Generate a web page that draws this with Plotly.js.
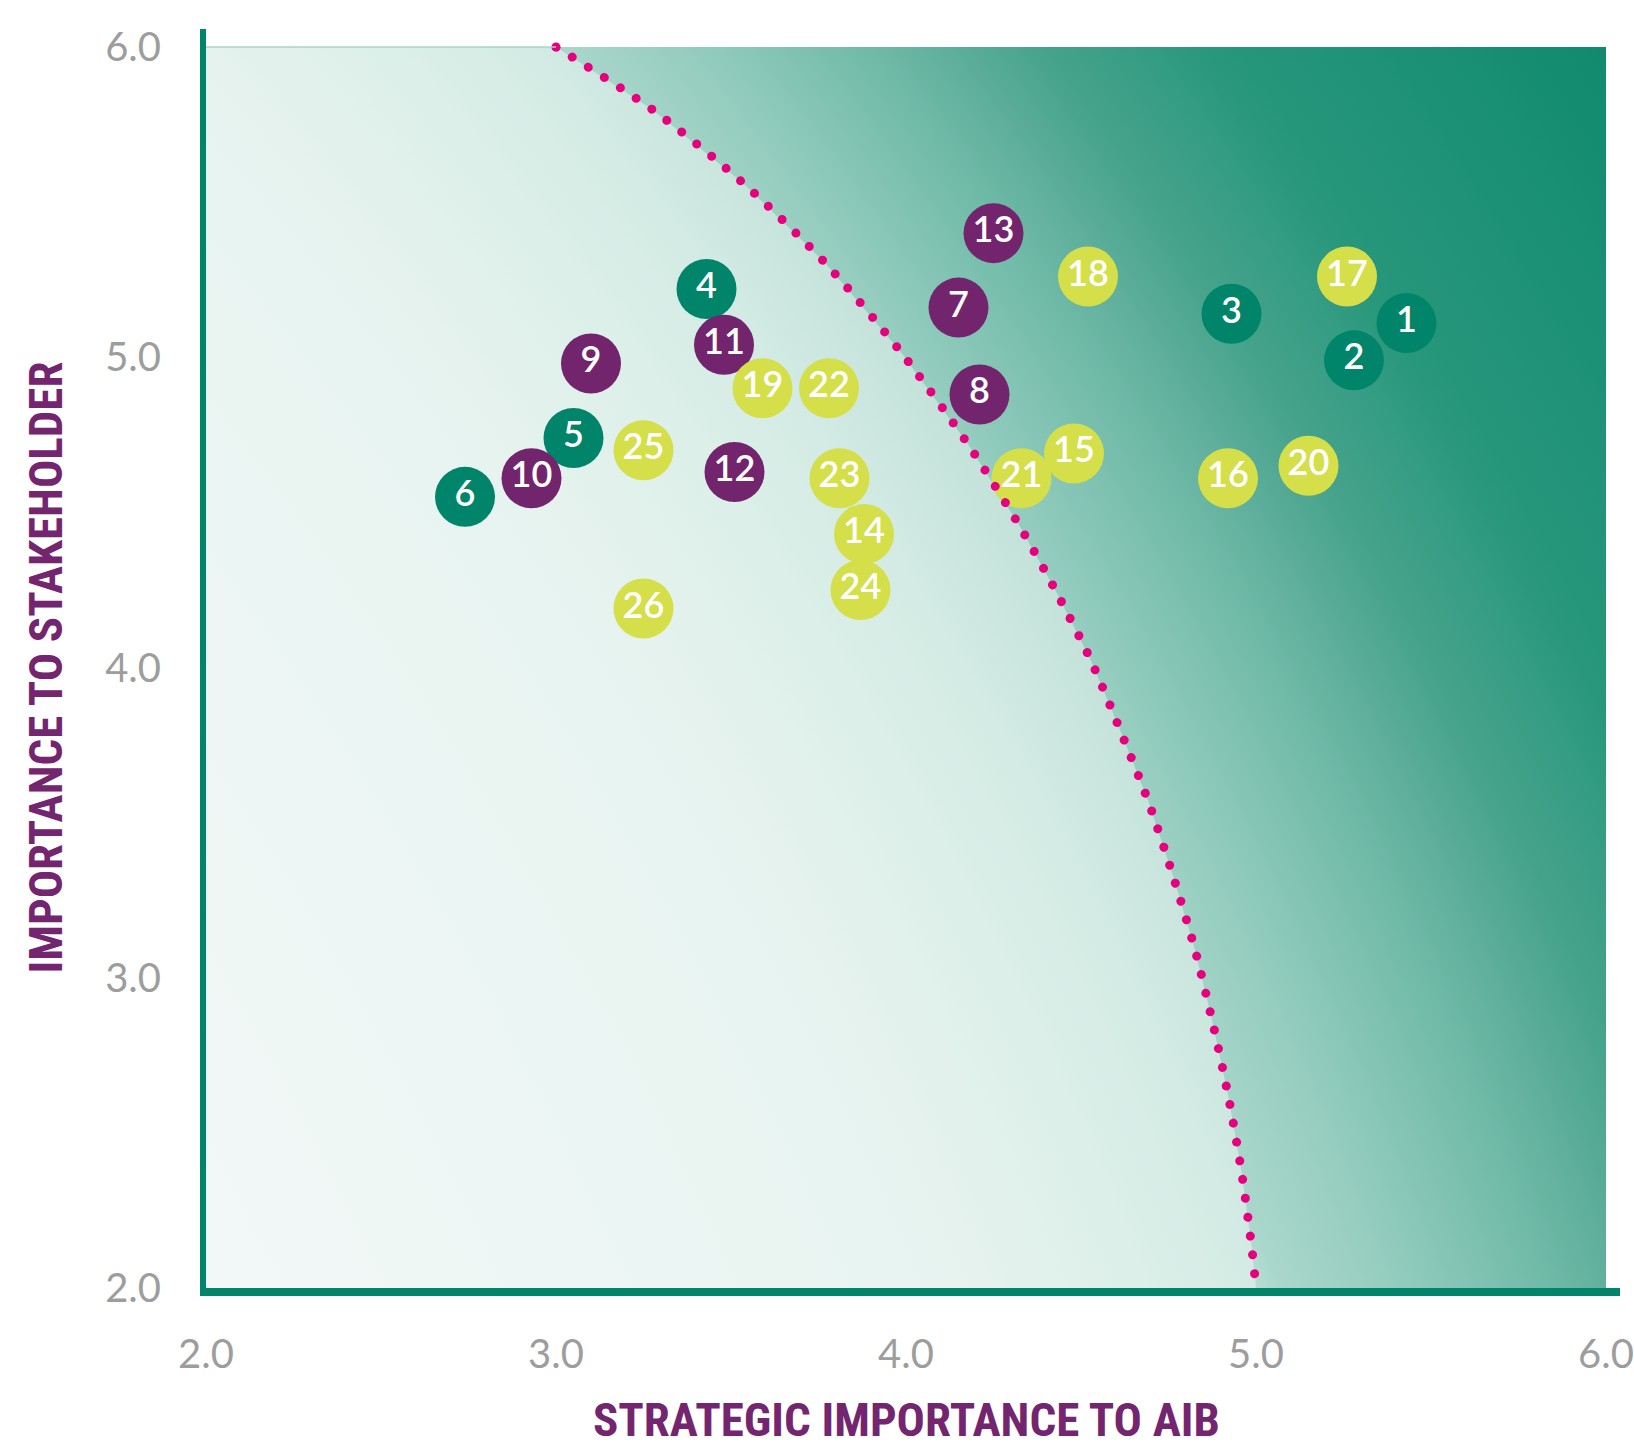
<!DOCTYPE html>
<html><head><meta charset="utf-8">
<script src="https://cdn.plot.ly/plotly-3.0.1.min.js"></script>
<style>html,body{margin:0;padding:0;background:#fff;} #chart{width:1634px;height:1450px;}</style>
</head><body><div id="chart"></div>
<script>
// ---- data ----
const greenIds = ['1','2','3','4','5','6'];
const greenX = [5.43, 5.28, 4.93, 3.43, 3.05, 2.74];
const greenY = [5.11, 4.99, 5.14, 5.22, 4.74, 4.55];

const purpleIds = ['7','8','9','10','11','12','13'];
const purpleX = [4.15, 4.21, 3.10, 2.93, 3.48, 3.51, 4.25];
const purpleY = [5.16, 4.88, 4.98, 4.61, 5.04, 4.63, 5.40];

const yellowIds = ['14','15','16','17','18','19','20','21','22','23','24','25','26'];
const yellowX = [3.88, 4.48, 4.92, 5.26, 4.52, 3.59, 5.15, 4.33, 3.78, 3.81, 3.87, 3.25, 3.25];
const yellowY = [4.43, 4.69, 4.61, 5.26, 5.26, 4.90, 4.65, 4.61, 4.90, 4.61, 4.25, 4.70, 4.19];

// materiality threshold curve (dotted)
const curveX = [3.000, 3.277, 3.534, 3.769, 3.983, 4.177, 4.323, 4.431, 4.529, 4.614, 4.694, 4.763, 4.826, 4.877, 4.923, 4.960, 4.989, 5.000];
const curveY = [6.000, 5.797, 5.562, 5.304, 5.020, 4.720, 4.459, 4.240, 4.021, 3.792, 3.563, 3.328, 3.089, 2.851, 2.606, 2.364, 2.119, 2.000];

const xTitle = 'STRATEGIC IMPORTANCE TO AIB';
const yTitle = 'IMPORTANCE TO STAKEHOLDER';
const axisRange = [2, 6];

// ---- styling ----
const GREEN = '#00856a', PURPLE = '#72256d', YELLOW = '#d4df4a', MAGENTA = '#e6007e';
const numFont = {family: 'Lato, "Open Sans", sans-serif', size: 36, color: '#ffffff', weight: 600};

// background gradient geometry (a far-off radial centre gives a soft diagonal gradient);
// the fill polygons reach outside the plot window and are clipped by the plot area.
const G = {cx: -8.92, cy: -2.71, r: 18};
const bgLeft = {
  x: [G.cx - G.r, G.cx + G.r, G.cx + G.r, G.cx - G.r],
  y: [G.cy - G.r, G.cy - G.r, G.cy + G.r, G.cy + G.r],
  mode: 'lines', fill: 'toself', line: {width: 0, color: 'rgba(0,0,0,0)'},
  fillgradient: {type: 'radial', colorscale: [
    [0, '#f6fbfa'], [0.661, '#f2f8f7'], [0.764, '#e8f4f1'], [0.776, '#e5f2ee'],
    [0.80, '#dcefe9'], [0.8167, '#d3ebe4'], [0.8367, '#c3e2da'], [0.86, '#b8ddd3'], [1, '#b0d8cd']]},
  hoverinfo: 'skip', showlegend: false
};
const bgRight = {
  x: curveX.concat([curveX[curveX.length - 1], G.cx + G.r, G.cx + G.r, G.cx - G.r]),
  y: curveY.concat([G.cy - G.r, G.cy - G.r, G.cy + G.r, G.cy + G.r]),
  mode: 'lines', fill: 'toself', line: {width: 0, color: 'rgba(0,0,0,0)'},
  fillgradient: {type: 'radial', colorscale: [
    [0, '#c0e1d8'], [0.8167, '#b8ddd3'], [0.82, '#aad7cb'], [0.8367, '#95cdbf'],
    [0.8594, '#72bba9'], [0.8689, '#62b19e'], [0.8844, '#45a28a'], [0.8983, '#339c83'],
    [0.9056, '#28977c'], [0.96, '#108a6e'], [1, '#0b876b']]},
  hoverinfo: 'skip', showlegend: false
};

function bubbles(xs, ys, ids, color) {
  return {x: xs, y: ys, text: ids, mode: 'markers+text', type: 'scatter',
    marker: {size: 60, color: color, line: {width: 0}},
    textposition: 'middle center', textfont: numFont, cliponaxis: false,
    hoverinfo: 'text', showlegend: false};
}

const curve = {x: curveX, y: curveY, mode: 'lines', type: 'scatter',
  line: {color: MAGENTA, width: 9, dash: '9px,10px', shape: 'spline', smoothing: 0.8},
  hoverinfo: 'skip', showlegend: false};
const curveStart = {x: [curveX[0]], y: [curveY[0]], mode: 'markers', type: 'scatter',
  marker: {size: 9, color: MAGENTA}, cliponaxis: false, hoverinfo: 'skip', showlegend: false};

const data = [bgLeft, bgRight,
  bubbles(greenX, greenY, greenIds, GREEN),
  bubbles(purpleX, purpleY, purpleIds, PURPLE),
  bubbles(yellowX, yellowY, yellowIds, YELLOW),
  curve, curveStart];

const tickFont = {family: 'Lato, "Open Sans", sans-serif', size: 40, color: '#9d9d9d'};
const titleFont = {family: '"Liberation Sans Narrow", "Roboto Condensed", Roboto, sans-serif', size: 47, color: '#73256f', weight: 'bold'};

const layout = {
  width: 1634, height: 1450,
  margin: {l: 206, r: 28, t: 47, b: 162},
  paper_bgcolor: '#ffffff', plot_bgcolor: '#ffffff',
  xaxis: {range: axisRange, dtick: 1, tick0: 2, tickformat: '.1f', showgrid: false, zeroline: false,
    showline: false, ticks: '', tickfont: tickFont, ticklabelstandoff: 39},
  yaxis: {range: axisRange, dtick: 1, tick0: 2, tickformat: '.1f', showgrid: false, zeroline: false,
    showline: false, ticks: '', tickfont: tickFont, ticklabelstandoff: 44,
    title: {text: yTitle, font: titleFont, standoff: 27}},
  annotations: [
    {text: xTitle, xref: 'paper', yref: 'paper', x: 0.5, y: -131/1241, xanchor: 'center', yanchor: 'middle',
      showarrow: false, font: titleFont}
  ],
  shapes: [
    {type: 'line', xref: 'x', yref: 'paper', x0: axisRange[0], x1: curveX[0], y0: 1, y1: 1,
      line: {color: '#a9d5c9', width: 1.5}},
    {type: 'line', xref: 'paper', yref: 'paper', x0: -3/1400, x1: -3/1400, y0: -8/1241, y1: 1.0145,
      line: {color: GREEN, width: 6}},
    {type: 'line', xref: 'paper', yref: 'paper', x0: -6/1400, x1: 1.01, y0: -4/1241, y1: -4/1241,
      line: {color: GREEN, width: 8}}
  ]
};

const gd = document.getElementById('chart');
Plotly.newPlot(gd, data, layout, {displayModeBar: false, staticPlot: true}).then(function () {
  const traces = gd.querySelectorAll('.scatterlayer .trace');
  const t = traces[5];
  if (t) {
    const p = t.querySelector('path.js-line');
    if (p) { p.style.strokeLinecap = 'round'; p.style.strokeDasharray = '0.01px 19px'; }
  }
});
</script></body></html>
